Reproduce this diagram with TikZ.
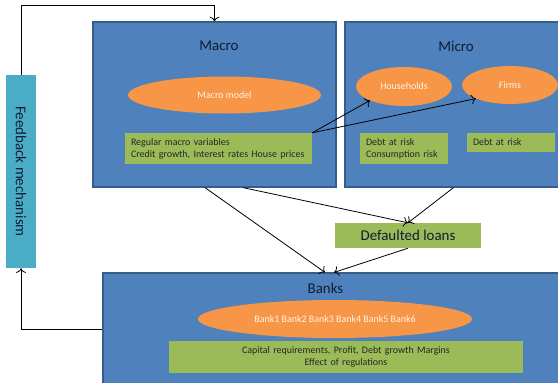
\documentclass[tikz,border=0pt]{standalone}
\usepackage{fontspec}
\setmainfont{Carlito}
\usetikzlibrary{shapes.geometric,arrows.meta}
\definecolor{panelblue}{HTML}{4F81BD}
\definecolor{paneledge}{HTML}{385D8A}
\definecolor{ovalorange}{HTML}{F79646}
\definecolor{boxgreen}{HTML}{9BBB59}
\definecolor{fbcyan}{HTML}{4BACC6}
\definecolor{titleink}{HTML}{101C33}
\begin{document}
\begin{tikzpicture}[x=1bp, y=-1bp, >={To[scale=1.4]},
  panel/.style={rectangle, draw=paneledge, line width=1.2bp, fill=panelblue, inner sep=0},
  title/.style={text=titleink, font=\fontsize{15}{18}\selectfont},
  oval/.style={ellipse, fill=ovalorange, text=white!92!orange, font=\fontsize{10}{12}\selectfont, inner sep=0},
  tag/.style={rectangle, fill=boxgreen, text=black!85, font=\fontsize{10}{12}\selectfont, inner xsep=6bp, inner ysep=0, align=left},
  link/.style={->, line width=0.8bp}]
\useasboundingbox (0,0) rectangle (558,382);
\node[panel, minimum width=243bp, minimum height=165bp] (macro) at (214.5,104.5){};
\node[panel, minimum width=217bp, minimum height=165bp] (micro) at (453.5,104.5){};
\node[panel, minimum width=459bp, minimum height=112bp] (banks) at (332.5,329){};
\node[title] (macrot) at (219,46){Macro};
\node[title] (microt) at (456,46){Micro};
\node[title] (bankst) at (325.5,288){Banks};
\node[oval, minimum width=193bp, minimum height=37bp] (model) at (224.5,95){Macro model};
\node[oval, minimum width=96bp, minimum height=39bp] (hh) at (404,86.5){Households};
\node[oval, minimum width=96bp, minimum height=38bp] (firms) at (510,85){Firms};
\node[oval, minimum width=274bp, minimum height=38bp] (banklist) at (335,319){Bank1 Bank2 Bank3 Bank4 Bank5 Bank6};
\node[tag, text width=175bp, minimum height=31bp] (macrovars) at (218.5,148.5){Regular macro variables\\Credit growth, Interest rates House prices};
\node[tag, text width=76bp, minimum height=31bp] (hhrisk) at (404,148.5){Debt at risk\\Consumption risk};
\node[tag, text width=76bp, minimum height=19bp] (firmrisk) at (511,142.5){Debt at risk};
\node[tag, text width=342bp, minimum height=32bp, align=center] (capital) at (346,357){Capital requirements, Profit, Debt growth Margins\\Effect of regulations};
\node[tag, minimum width=146bp, minimum height=25bp, align=center, text=titleink, font=\fontsize{15}{18}\selectfont] (defaulted) at (408,235.5){Defaulted loans};
\node[rectangle, fill=fbcyan, minimum width=30bp, minimum height=193bp, inner sep=0, text=titleink, font=\fontsize{15}{18}\selectfont] (feedback) at (21,171.5){\rotatebox{-90}{Feedback mechanism}};
\draw[link] (feedback.north) -- ++(0,-69) -| (macro.north);
\draw[link] (banks.west) -| (feedback.south);
\draw[link] (macrovars.north east) -- (hh.south west);
\draw[link] (macrovars.north east) -- (firms.south west);
\draw[link] ([xshift=-9.5bp]macro.south) -- ([xshift=-7.5bp]banks.north);
\draw[link] ([xshift=28.5bp]macro.south) -- (defaulted.north);
\draw[link] (micro.south) -- (defaulted.north);
\draw[link] (defaulted.south) -- ([xshift=1.5bp]banks.north);
\end{tikzpicture}
\end{document}
